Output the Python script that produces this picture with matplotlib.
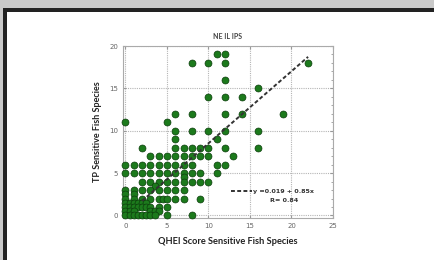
import matplotlib
matplotlib.use("Agg")
import matplotlib.pyplot as plt
from matplotlib.patches import Rectangle
from matplotlib.ticker import MultipleLocator
import numpy as np

title = "NE IL IPS"
xlabel = "QHEI Score Sensitive Fish Species"
ylabel = "TP Sensitive Fish Species"
fit_label = "y =0.019 + 0.85x"
r_label = "R= 0.84"
intercept = 0.019
slope = 0.85
fit_x = [2.0, 22.0]

rows = {
    19: [11, 12],
    18: [8, 10, 12, 22],
    16: [12],
    15: [16],
    14: [10, 12, 14],
    12: [6, 8, 12, 14, 19],
    11: [0, 5],
    10: [6, 8, 10, 12, 16],
    9: [6, 11],
    8: [2, 6, 7, 8, 9, 10, 12, 16],
    7: [3, 4, 5, 6, 7, 8, 9, 10, 13],
    6: [0, 1, 2, 3, 4, 5, 6, 7, 8, 11, 12],
    5: [0, 1, 2, 3, 4, 5, 6, 7, 8, 9, 11],
    4.5: [7],
    4: [2, 3, 4, 5, 6, 7, 8, 9, 10],
    3.5: [3.5],
    3: [0, 1, 2, 3, 4, 5, 6, 7],
    2.5: [0, 1],
    2: [0, 1, 2, 3, 4, 4.5, 5, 6, 7, 9],
    1.5: [0, 0.5, 1, 1.5, 2, 2.5],
    1: [0, 0.5, 1, 1.5, 2, 2.5, 3, 4, 5],
    0.5: [0, 0.5, 1, 3, 3.5, 4],
    0: [0, 0.5, 1, 1.5, 2, 2.5, 3, 3.5, 5, 8],
}
x_vals = [x for yv, xs in rows.items() for x in xs]
y_vals = [yv for yv, xs in rows.items() for x in xs]

xticks = [0, 5, 10, 15, 20, 25]
yticks = [0, 5, 10, 15, 20]

fig = plt.figure(figsize=(4.35, 2.6), dpi=100)
fig.patch.set_facecolor("#c9c9c9")
# white panel with dark frame
fig.patches.append(Rectangle((3/435, -0.1), 1.2, (260-8)/260 + 0.1,
                             transform=fig.transFigure, facecolor="#222222",
                             edgecolor="none", zorder=-2))
fig.patches.append(Rectangle((7/435, -0.1), 1.2, (260-12)/260 + 0.1,
                             transform=fig.transFigure, facecolor="white",
                             edgecolor="none", zorder=-1))

ax = fig.add_axes([123/435, 42/260, 210/435, 172/260])
ax.set_zorder(1)
ax.set_facecolor("white")
ax.set_xlim(-0.3, 25)
ax.set_ylim(-0.3, 20)
ax.set_xticks(xticks)
ax.set_yticks(yticks)
ax.yaxis.set_minor_locator(MultipleLocator(1))
ax.grid(True, which="major", color="#b5b5b5", linestyle=(0, (1, 1)), linewidth=0.8)
ax.tick_params(which="both", direction="in", colors="#999999", labelcolor="#666666",
               labelsize=5, length=2, right=True, top=True)
ax.tick_params(which="minor", length=1.2, left=False)
for s in ax.spines.values():
    s.set_color("#aaaaaa")
    s.set_linewidth(0.8)

ax.scatter(x_vals, y_vals, s=25, facecolor="#1c7a1c", edgecolor="#0c3d0c",
           linewidth=0.5, zorder=3, clip_on=False)
fx = np.array(fit_x)
ax.plot(fx, intercept + slope * fx, color="#333333", linestyle=(0, (2, 1.2)),
        linewidth=1.4, zorder=4, label=fit_label)

leg = ax.legend(loc="center left", bbox_to_anchor=(0.515, 0.153), frameon=False,
                fontsize=4.6, handlelength=3.2, handletextpad=0.2, borderpad=0,
                borderaxespad=0)
for t in leg.get_texts():
    t.set_color("#333333")
    t.set_fontweight("bold")
ax.text(0.765, 0.099, r_label, transform=ax.transAxes, fontsize=4.6,
        color="#333333", fontweight="bold", ha="center", va="center")

ax.set_title(title, fontsize=5, color="#444444", fontweight="bold", pad=5,
             family="Lato")
ax.set_xlabel(xlabel, fontsize=6.7, fontweight="bold", color="#222222",
              family="Lato", labelpad=6)
ax.set_ylabel(ylabel, fontsize=6.5, fontweight="bold", color="#222222",
              family="Lato", labelpad=5)

fig.savefig("out.png", dpi=100, facecolor=fig.get_facecolor())
